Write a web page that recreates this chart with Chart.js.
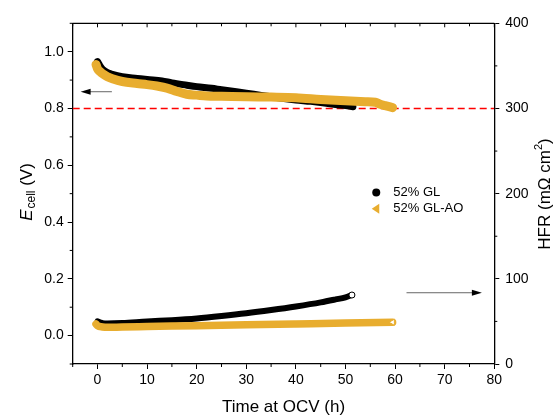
<!DOCTYPE html>
<html>
<head>
<meta charset="utf-8">
<script src="https://cdn.jsdelivr.net/npm/chart.js@4.4.1/dist/chart.umd.min.js"></script>
<style>
  html, body { margin: 0; padding: 0; background: #fff; }
  #wrap { width: 553px; height: 415px; position: relative; }
</style>
</head>
<body>
<div id="wrap"><canvas id="ocvChart"></canvas></div>
<script>
// values
const timeGL_E = [0, 0.5, 1, 2, 3, 5, 8, 10, 13, 15, 18, 20, 23, 25, 28, 30, 33, 35, 38, 40, 43, 45, 48, 50, 51.5];
const eGL = [0.965, 0.95, 0.938, 0.926, 0.92, 0.912, 0.906, 0.902, 0.897, 0.89, 0.882, 0.877, 0.871, 0.866, 0.859, 0.854, 0.846, 0.841, 0.834, 0.83, 0.825, 0.821, 0.814, 0.81, 0.806];

const timeAO_E = [-0.3, 0, 0.5, 1, 2, 3, 5, 8, 10, 12, 14, 16, 18, 20, 22, 25, 30, 35, 40, 45, 50, 54, 56, 57, 58, 59.5];
const eAO = [0.955, 0.94, 0.93, 0.923, 0.912, 0.905, 0.895, 0.888, 0.884, 0.879, 0.872, 0.86, 0.85, 0.847, 0.844, 0.843, 0.841, 0.84, 0.838, 0.832, 0.827, 0.824, 0.822, 0.815, 0.81, 0.803];

const timeGL_H = [0, 0.5, 1, 2, 5, 10, 15, 20, 25, 30, 35, 40, 45, 48, 50, 51.3];
const hfrGL = [50, 49, 48, 47.5, 48, 50, 51.5, 53.5, 56.3, 59.5, 63.3, 67.5, 72.3, 75.8, 78.3, 81];

const timeAO_H = [-0.3, 0, 1, 2, 5, 10, 20, 30, 40, 50, 59.5];
const hfrAO = [47, 45, 43.5, 43, 43.5, 44, 45, 46, 47, 48, 49];

const seriesNames = ['52% GL', '52% GL-AO'];
const limitE = 0.8;

const xTicks = [0, 10, 20, 30, 40, 50, 60, 70, 80];
const xMinor = [-5, 5, 15, 25, 35, 45, 55, 65, 75];
const yTicks = [0, 0.2, 0.4, 0.6, 0.8, 1.0];
const yMinor = [-0.1, 0.1, 0.3, 0.5, 0.7, 0.9, 1.1];
const y2Ticks = [0, 100, 200, 300, 400];
const y2Minor = [50, 150, 250, 350];

const GOLD = '#e8ad2f';
const FONT = 'Arial, "Liberation Sans", sans-serif';

function pts(xs, ys) {
    return xs.map((x, i) => ({ x: x, y: ys[i] }));
}

// hollow marker on the last point only
function lastOnly(r) {
    return ctx => ctx.dataIndex === ctx.dataset.data.length - 1 ? r : 0;
}

function arrow(ctx, x1, y, x2) {
    const dir = x2 > x1 ? 1 : -1;
    ctx.strokeStyle = '#666';
    ctx.lineWidth = 1;
    ctx.beginPath();
    ctx.moveTo(x1, y);
    ctx.lineTo(x2 - dir * 8, y);
    ctx.stroke();
    ctx.fillStyle = '#000';
    ctx.beginPath();
    ctx.moveTo(x2, y);
    ctx.lineTo(x2 - dir * 10, y - 3);
    ctx.lineTo(x2 - dir * 10, y + 3);
    ctx.closePath();
    ctx.fill();
}

const decor = {
    id: 'decor',
    afterDraw(chart) {
        const ctx = chart.ctx;
        const a = chart.chartArea;
        const sx = chart.scales.x, sy = chart.scales.y, sy2 = chart.scales.y2;
        ctx.save();

        // top frame with inward ticks
        ctx.strokeStyle = '#000';
        ctx.lineWidth = 1.3;
        ctx.beginPath();
        ctx.moveTo(a.left, a.top);
        ctx.lineTo(a.right, a.top);
        ctx.stroke();
        ctx.lineWidth = 1;
        ctx.beginPath();
        xTicks.forEach(v => { const p = sx.getPixelForValue(v); ctx.moveTo(p, a.top); ctx.lineTo(p, a.top + 4); });
        xMinor.forEach(v => { const p = sx.getPixelForValue(v); ctx.moveTo(p, a.top); ctx.lineTo(p, a.top + 3); });
        // minor ticks, outward
        xMinor.forEach(v => { const p = sx.getPixelForValue(v); ctx.moveTo(p, a.bottom); ctx.lineTo(p, a.bottom + 3); });
        yMinor.forEach(v => { const p = sy.getPixelForValue(v); ctx.moveTo(a.left, p); ctx.lineTo(a.left - 3, p); });
        y2Minor.forEach(v => { const p = sy2.getPixelForValue(v); ctx.moveTo(a.right, p); ctx.lineTo(a.right + 3, p); });
        ctx.stroke();

        // arrows pointing at the axes
        arrow(ctx, sx.getPixelForValue(2.9), sy.getPixelForValue(0.859), sx.getPixelForValue(-3.4));
        arrow(ctx, sx.getPixelForValue(62.3), sy.getPixelForValue(0.151), sx.getPixelForValue(77.5));

        // legend
        const lx = sx.getPixelForValue(56.2);
        const ly1 = sy.getPixelForValue(0.504), ly2 = sy.getPixelForValue(0.447);
        ctx.fillStyle = '#000';
        ctx.beginPath();
        ctx.arc(lx, ly1, 4, 0, Math.PI * 2);
        ctx.fill();
        ctx.fillStyle = GOLD;
        ctx.beginPath();
        ctx.moveTo(lx - 4.5, ly2);
        ctx.lineTo(lx + 3, ly2 - 5);
        ctx.lineTo(lx + 3, ly2 + 5);
        ctx.closePath();
        ctx.fill();
        ctx.fillStyle = '#000';
        ctx.font = '13px ' + FONT;
        ctx.textBaseline = 'middle';
        ctx.textAlign = 'left';
        ctx.fillText(seriesNames[0], lx + 17, ly1);
        ctx.fillText(seriesNames[1], lx + 17, ly2);

        // x title
        ctx.font = '17px ' + FONT;
        ctx.textAlign = 'center';
        ctx.fillText('Time at OCV (h)', (a.left + a.right) / 2, 407);

        // left title: E_cell (V)
        ctx.save();
        ctx.translate(27, 192);
        ctx.rotate(-Math.PI / 2);
        ctx.textAlign = 'left';
        ctx.font = 'italic 17px ' + FONT;
        const wE = ctx.measureText('E').width;
        ctx.font = '12px ' + FONT;
        const wSub = ctx.measureText('cell').width;
        ctx.font = '17px ' + FONT;
        const wV = ctx.measureText(' (V)').width;
        let x0 = -(wE + wSub + 1 + wV) / 2;
        ctx.font = 'italic 17px ' + FONT;
        ctx.fillText('E', x0, 0);
        x0 += wE + 1;
        ctx.font = '12px ' + FONT;
        ctx.fillText('cell', x0, 5);
        x0 += wSub;
        ctx.font = '17px ' + FONT;
        ctx.fillText(' (V)', x0, 0);
        ctx.restore();

        // right title: HFR (mΩ cm²)
        ctx.save();
        ctx.translate(545, 194);
        ctx.rotate(-Math.PI / 2);
        ctx.textAlign = 'left';
        ctx.font = '17px ' + FONT;
        const wA = ctx.measureText('HFR (m\u03A9 cm').width;
        const wC = ctx.measureText(')').width;
        ctx.font = '11px ' + FONT;
        const wS = ctx.measureText('2').width;
        let x1 = -(wA + wS + wC) / 2;
        ctx.font = '17px ' + FONT;
        ctx.fillText('HFR (m\u03A9 cm', x1, 0);
        x1 += wA;
        ctx.font = '11px ' + FONT;
        ctx.fillText('2', x1, -6);
        x1 += wS;
        ctx.font = '17px ' + FONT;
        ctx.fillText(')', x1, 0);
        ctx.restore();

        ctx.restore();
    }
};

const tickFont = { family: FONT, size: 14 };
const axisGrid = { drawOnChartArea: false, tickLength: 5, color: '#000', tickColor: '#000', lineWidth: 1 };
const axisBorder = { display: true, color: '#000', width: 1.3 };

const config = {
    type: 'line',
    data: {
        datasets: [
            {
                label: seriesNames[1] + ' E',
                data: pts(timeAO_E, eAO),
                yAxisID: 'y',
                borderColor: GOLD,
                borderWidth: 9,
                borderCapStyle: 'round',
                borderJoinStyle: 'round',
                cubicInterpolationMode: 'monotone',
                pointRadius: 0,
                order: 1
            },
            {
                label: seriesNames[0] + ' E',
                data: pts(timeGL_E, eGL),
                yAxisID: 'y',
                borderColor: '#000',
                borderWidth: 7,
                borderCapStyle: 'round',
                borderJoinStyle: 'round',
                cubicInterpolationMode: 'monotone',
                pointRadius: 0,
                order: 2
            },
            {
                label: seriesNames[1] + ' HFR',
                data: pts(timeAO_H, hfrAO),
                yAxisID: 'y2',
                borderColor: GOLD,
                borderWidth: 7.5,
                borderCapStyle: 'round',
                borderJoinStyle: 'round',
                cubicInterpolationMode: 'monotone',
                pointStyle: 'triangle',
                rotation: -90,
                pointRadius: lastOnly(3.5),
                pointBackgroundColor: '#fff',
                pointBorderColor: GOLD,
                pointBorderWidth: 1,
                order: 1
            },
            {
                label: seriesNames[0] + ' HFR',
                data: pts(timeGL_H, hfrGL),
                yAxisID: 'y2',
                borderColor: '#000',
                borderWidth: 6,
                borderCapStyle: 'round',
                borderJoinStyle: 'round',
                cubicInterpolationMode: 'monotone',
                pointRadius: lastOnly(3),
                pointBackgroundColor: '#fff',
                pointBorderColor: '#000',
                pointBorderWidth: 1,
                order: 2
            },
            {
                label: 'limit',
                data: [{ x: -5, y: limitE }, { x: 80, y: limitE }],
                yAxisID: 'y',
                borderColor: '#ff0000',
                borderWidth: 1.5,
                borderDash: [7, 4],
                pointRadius: 0,
                order: 3
            }
        ]
    },
    options: {
        responsive: true,
        maintainAspectRatio: false,
        animation: false,
        devicePixelRatio: 1,
        layout: { padding: { top: 23.3, left: 0, right: 0, bottom: 0 } },
        plugins: {
            legend: { display: false },
            tooltip: { enabled: false }
        },
        scales: {
            x: {
                type: 'linear',
                min: -5,
                max: 80,
                afterBuildTicks: s => { s.ticks = xTicks.map(v => ({ value: v })); },
                afterFit: s => { s.height = 51; },
                ticks: { font: tickFont, color: '#000', padding: 3, maxRotation: 0, autoSkip: false },
                grid: axisGrid,
                border: axisBorder
            },
            y: {
                position: 'left',
                min: -0.1,
                max: 1.1,
                afterBuildTicks: s => { s.ticks = yTicks.map(v => ({ value: v })); },
                afterFit: s => { s.width = 72.7; },
                ticks: { font: tickFont, color: '#000', padding: 4, callback: v => v.toFixed(1) },
                grid: axisGrid,
                border: axisBorder
            },
            y2: {
                position: 'right',
                min: 0,
                max: 400,
                afterBuildTicks: s => { s.ticks = y2Ticks.map(v => ({ value: v })); },
                afterFit: s => { s.width = 58.7; },
                ticks: { font: tickFont, color: '#000', padding: 6 },
                grid: axisGrid,
                border: axisBorder
            }
        }
    },
    plugins: [decor]
};

new Chart(document.getElementById('ocvChart'), config);
</script>
</body>
</html>
